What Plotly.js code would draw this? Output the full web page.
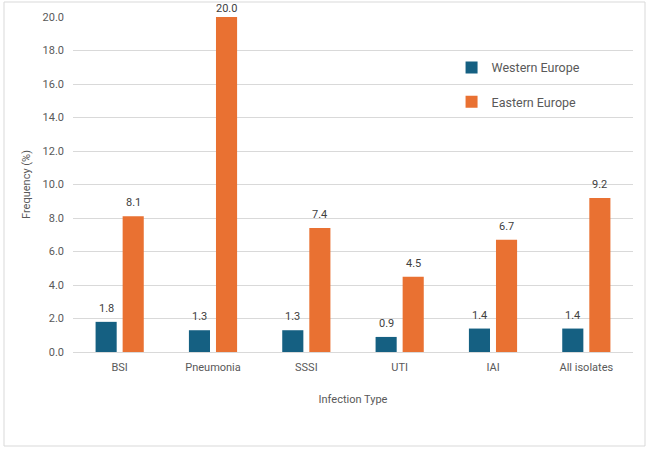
<!DOCTYPE html>
<html><head><meta charset="utf-8">
<script src="https://cdn.plot.ly/plotly-3.0.1.min.js"></script>
<style>html,body{margin:0;padding:0;background:#fff}#c{width:650px;height:449px}</style>
</head><body><div id="c"></div>
<script>
const categories = ["BSI","Pneumonia","SSSI","UTI","IAI","All isolates"];
const westernEurope = [1.8,1.3,1.3,0.9,1.4,1.4];
const easternEurope = [8.1,20.0,7.4,4.5,6.7,9.2];
const seriesNames = ["Western Europe","Eastern Europe"];
const yTicks = [0,2,4,6,8,10,12,14,16,18,20];

const font = "Roboto, 'Liberation Sans', Arial, sans-serif";
const bargap = 0.42, bargroupgap = 0.22;
const yMax = 20;
const mk = (name, y, color, grp) => ({
  type:'bar', name, x:categories, y, marker:{color},
  legendgroup:grp, hoverinfo:'skip'
});
const data = [
  mk(seriesNames[0], westernEurope, '#156082', 'a'),
  mk(seriesNames[1], easternEurope, '#E97132', 'b')
];
const slot = (1-bargap)/2;
const annotations = [];
[westernEurope, easternEurope].forEach((ys, s) => {
  const off = (s - 0.5) * slot;
  ys.forEach((v, i) => annotations.push({
    x: i + off, y: v, xref:'x', yref:'y', text: v.toFixed(1), showarrow:false,
    yanchor:'bottom', yshift: v >= yMax*0.95 ? 0 : 5,
    font:{size:11,color:'#404040',family:font}
  }));
});
const pl=73, pr=633, pt=17, pb=352, W=650, H=449;
const layout = {
  width:W, height:H,
  margin:{l:pl, r:W-pr, t:pt, b:H-pb},
  paper_bgcolor:'#fff', plot_bgcolor:'#fff',
  font:{family:font, color:'#595959', size:11},
  barmode:'group', bargap, bargroupgap,
  showlegend:true,
  legend:{x:0.676, y:0.893, xanchor:'left', yanchor:'top', bgcolor:'rgba(0,0,0,0)',
    font:{size:12.5,color:'#595959'}, tracegroupgap:15, itemsizing:'constant'},
  xaxis:{showline:false, ticks:'', ticklabelstandoff:7, tickfont:{size:11,color:'#595959'},
    title:{text:'Infection Type', font:{size:11,color:'#595959'}, standoff:22}},
  yaxis:{range:[0,yMax], tickvals:yTicks, tickformat:'.1f', showgrid:true,
    gridcolor:'#d9d9d9', gridwidth:1, zeroline:true, zerolinecolor:'#d9d9d9',
    showline:false, ticks:'', ticklen:0, ticklabelstandoff:8, tickfont:{size:11,color:'#595959'},
    title:{text:'Frequency (%)', font:{size:11,color:'#595959'}, standoff:9}},
  annotations,
  shapes:[{type:'rect', xref:'paper', yref:'paper',
    x0:(4-pl)/(pr-pl), x1:(645-pl)/(pr-pl),
    y0:(pb-446)/(pb-pt), y1:(pb-2)/(pb-pt),
    line:{color:'#d9d9d9', width:1}, fillcolor:'rgba(0,0,0,0)', layer:'below'}]
};
Plotly.newPlot('c', data, layout, {displayModeBar:false, staticPlot:true});
</script></body></html>
